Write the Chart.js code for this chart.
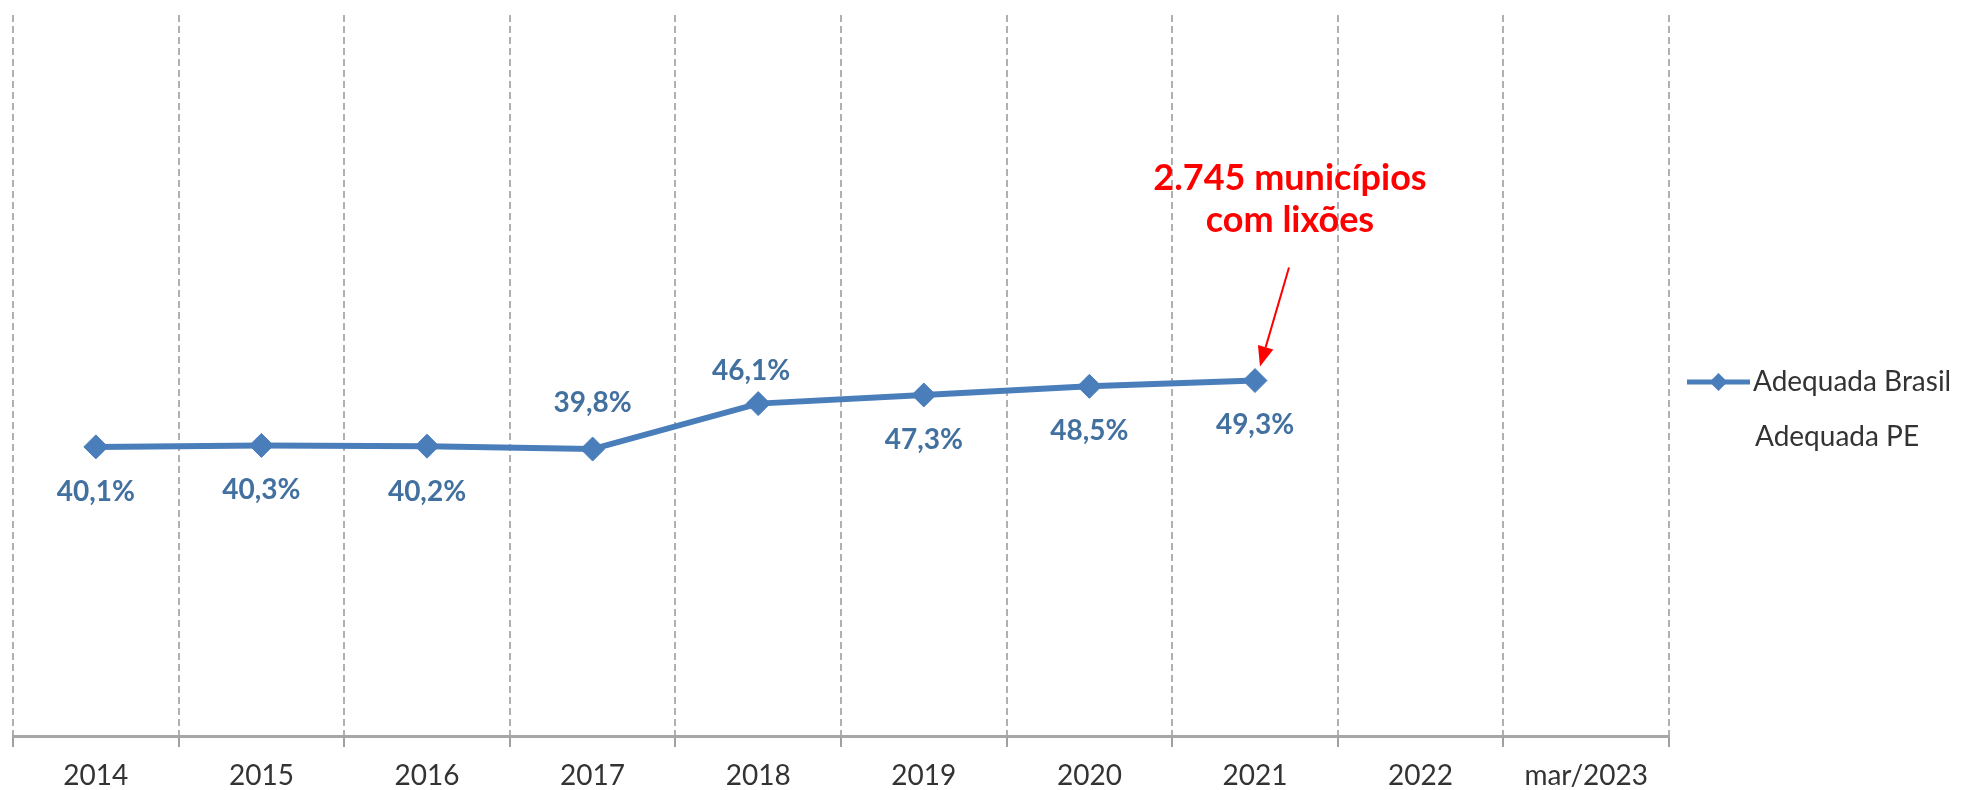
<!DOCTYPE html>
<html>
<head>
<meta charset="utf-8">
<script src="https://cdn.jsdelivr.net/npm/chart.js@4/dist/chart.umd.min.js"></script>
<style>
  html, body { margin: 0; padding: 0; background: #ffffff; }
  #wrap { width: 1961px; height: 790px; position: relative; }
</style>
</head>
<body>
<div id="wrap"><canvas id="c" width="1961" height="790"></canvas></div>
<script>
// ---- data ----
const categories = ['2014', '2015', '2016', '2017', '2018', '2019', '2020', '2021', '2022', 'mar/2023'];
const adequadaBrasil = [40.1, 40.3, 40.2, 39.8, 46.1, 47.3, 48.5, 49.3, null, null];
const adequadaPE = [null, null, null, null, null, null, null, null, null, null];
const valueLabels = ['40,1%', '40,3%', '40,2%', '39,8%', '46,1%', '47,3%', '48,5%', '49,3%'];
const seriesNames = ['Adequada Brasil', 'Adequada PE'];
const annotationLines = ['2.745 municípios', 'com lixões'];
const annotationIndex = 7;

// ---- label placement (style, not data) ----
const labelOffsetY = [45, 45, 46, -46, -33, 45, 45, 44];
const labelOffsetX = [0, 0, 0, 0, -7, 0, 0, 0];

const BLUE = '#4a7ebb';
const LABEL_BLUE = '#42709f';
const TEXT_GRAY = '#333333';
const FONT = 'Lato, "Open Sans", sans-serif';

const valueLabelPlugin = {
  id: 'valueLabels',
  afterDatasetsDraw(chart) {
    const meta = chart.getDatasetMeta(0);
    const ctx = chart.ctx;
    ctx.save();
    ctx.font = 'bold 28px ' + FONT;
    ctx.fillStyle = LABEL_BLUE;
    ctx.textAlign = 'center';
    ctx.textBaseline = 'middle';
    meta.data.forEach((pt, i) => {
      if (adequadaBrasil[i] == null || valueLabels[i] == null) return;
      ctx.fillText(valueLabels[i], pt.x + labelOffsetX[i], pt.y + labelOffsetY[i]);
    });
    ctx.restore();
  }
};

const annotationPlugin = {
  id: 'annotation',
  afterDatasetsDraw(chart) {
    const pt = chart.getDatasetMeta(0).data[annotationIndex];
    if (!pt) return;
    const ctx = chart.ctx;
    ctx.save();
    ctx.fillStyle = '#ff0000';
    ctx.strokeStyle = '#ff0000';
    ctx.font = 'bold 36px ' + FONT;
    ctx.textAlign = 'center';
    ctx.textBaseline = 'alphabetic';
    const cx = pt.x + 35;
    ctx.fillText(annotationLines[0], cx, pt.y - 191);
    ctx.fillText(annotationLines[1], cx, pt.y - 149);
    // arrow
    const x1 = pt.x + 34, y1 = pt.y - 113;
    const x2 = pt.x + 5, y2 = pt.y - 14;
    const ang = Math.atan2(y2 - y1, x2 - x1);
    const headLen = 20, headW = 8;
    const bx = x2 - headLen * Math.cos(ang), by = y2 - headLen * Math.sin(ang);
    ctx.lineWidth = 2;
    ctx.beginPath();
    ctx.moveTo(x1, y1);
    ctx.lineTo(bx, by);
    ctx.stroke();
    ctx.beginPath();
    ctx.moveTo(x2, y2);
    ctx.lineTo(bx + headW * Math.sin(ang), by - headW * Math.cos(ang));
    ctx.lineTo(bx - headW * Math.sin(ang), by + headW * Math.cos(ang));
    ctx.closePath();
    ctx.fill();
    ctx.restore();
  }
};

const legendPlugin = {
  id: 'customLegend',
  afterDraw(chart) {
    const ctx = chart.ctx;
    const area = chart.chartArea;
    const x0 = area.right + 18;
    const yA = 382, yB = 437;
    ctx.save();
    ctx.strokeStyle = BLUE;
    ctx.lineWidth = 5;
    ctx.beginPath();
    ctx.moveTo(x0, yA);
    ctx.lineTo(x0 + 63, yA);
    ctx.stroke();
    ctx.fillStyle = BLUE;
    ctx.beginPath();
    ctx.moveTo(x0 + 31.5 - 9, yA);
    ctx.lineTo(x0 + 31.5, yA - 9);
    ctx.lineTo(x0 + 31.5 + 9, yA);
    ctx.lineTo(x0 + 31.5, yA + 9);
    ctx.closePath();
    ctx.fill();
    ctx.font = '28px ' + FONT;
    ctx.fillStyle = TEXT_GRAY;
    ctx.textAlign = 'left';
    ctx.textBaseline = 'middle';
    ctx.fillText(seriesNames[0], x0 + 66, yA);
    ctx.fillText(seriesNames[1], x0 + 68, yB);
    ctx.restore();
  }
};

new Chart(document.getElementById('c'), {
  type: 'line',
  data: {
    labels: categories,
    datasets: [
      {
        label: seriesNames[0],
        data: adequadaBrasil,
        borderColor: BLUE,
        backgroundColor: BLUE,
        borderWidth: 6,
        pointStyle: 'rectRot',
        pointRadius: 12,
        pointBorderWidth: 1,
        pointBackgroundColor: BLUE,
        pointBorderColor: BLUE,
        tension: 0,
        spanGaps: false
      },
      {
        label: seriesNames[1],
        data: adequadaPE,
        borderColor: 'rgba(0,0,0,0)',
        backgroundColor: 'rgba(0,0,0,0)',
        pointRadius: 0
      }
    ]
  },
  options: {
    responsive: false,
    animation: false,
    devicePixelRatio: 1,
    layout: { padding: { left: 10, top: 15, right: 292, bottom: 0 } },
    plugins: {
      legend: { display: false },
      tooltip: { enabled: false }
    },
    scales: {
      x: {
        type: 'category',
        offset: true,
        afterFit(scale) { scale.height = 54; },
        grid: {
          display: true,
          offset: true,
          color: '#b0b0b0',
          lineWidth: 2,
          drawTicks: true,
          tickLength: 11,
          tickColor: '#a0a0a0',
          tickWidth: 2,
          tickBorderDash: []
        },
        border: {
          display: true,
          color: '#a6a6a6',
          width: 3,
          dash: [7, 4]
        },
        ticks: {
          color: TEXT_GRAY,
          font: { family: FONT, size: 28, lineHeight: 1 },
          padding: 15,
          maxRotation: 0,
          autoSkip: false
        }
      },
      y: {
        display: false,
        min: 0,
        max: 100
      }
    }
  },
  plugins: [valueLabelPlugin, annotationPlugin, legendPlugin]
});
</script>
</body>
</html>
